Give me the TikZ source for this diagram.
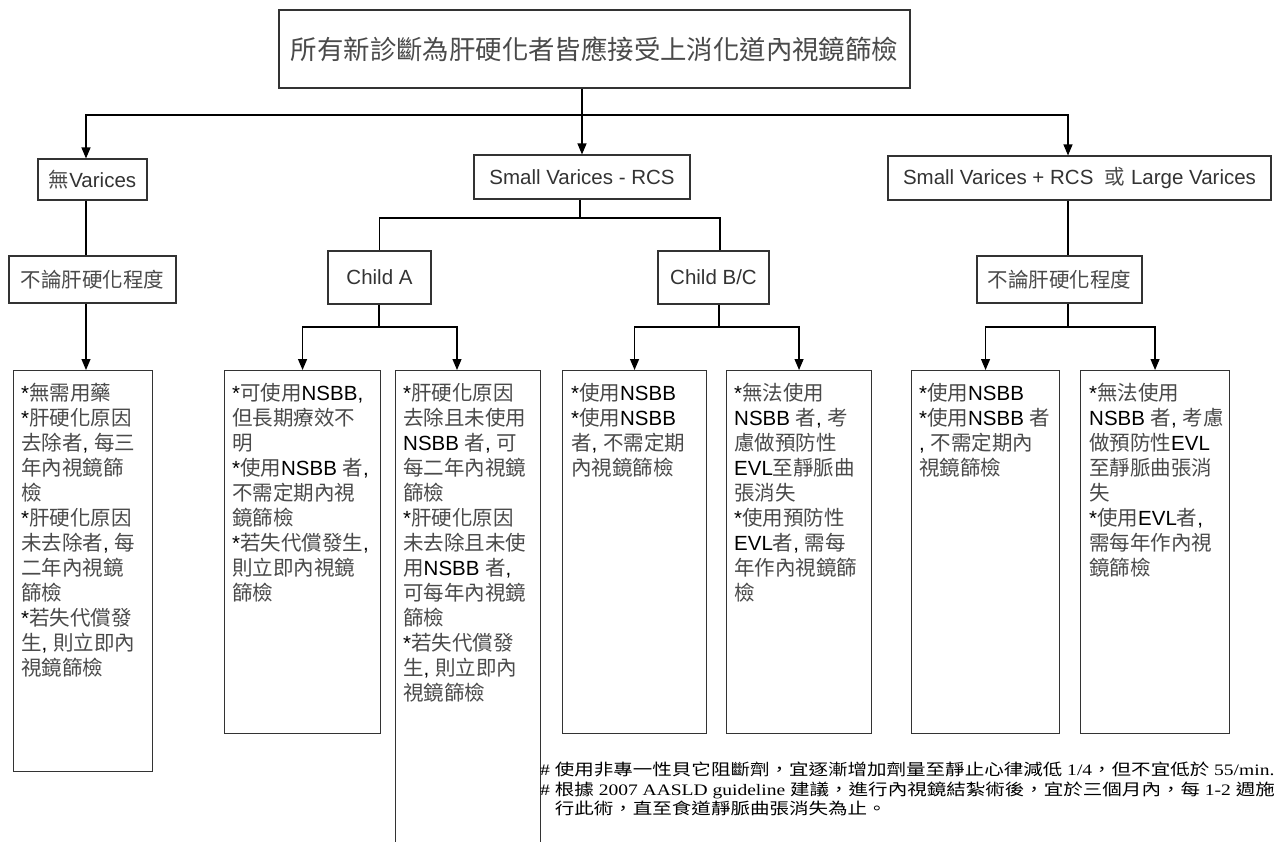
\documentclass[tikz,border=0pt]{standalone}
\usepackage{fontspec}
\setmainfont{Liberation Sans}
\newfontfamily\cjk{Noto Sans CJK TC}
\newfontfamily\fnlat[FakeStretch=1.22]{Liberation Serif}
\newfontfamily\fncjk[FakeStretch=1.22]{Noto Sans CJK TC}
\usetikzlibrary{arrows.meta,calc}
\definecolor{zhgray}{HTML}{4A4A4A}
\definecolor{boxline}{HTML}{333333}
\definecolor{labtext}{HTML}{333333}
\newcommand\zh[1]{{\cjk\color{zhgray}#1}}
\newcommand\fz[1]{{\fncjk #1}}
\newcommand\topfont{\fontsize{26.4pt}{30pt}\selectfont}
\newcommand\labfont{\fontsize{20.5pt}{24pt}\selectfont}
\newcommand\leaffont{\fontsize{20.5pt}{25pt}\selectfont}
\newcommand\notefont{\fontsize{16pt}{19.5pt}\selectfont}
\begin{document}
\begin{tikzpicture}[x=1pt,y=-1pt,
  mybox/.style={draw=boxline, line width=1.1pt, inner sep=0pt},
  lab/.style={mybox, font=\labfont, text=labtext},
  leafbox/.style={mybox, anchor=north west},
  leaf/.style={anchor=north west, inner sep=0pt, align=left, font=\leaffont, text=black},
  conn/.style={draw=black, line width=1.2pt},
  arr/.style={conn, -{Triangle[width=9pt,length=11pt]}}]
\useasboundingbox (0,0) rectangle (1276,842);
\clip (0,0) rectangle (1276,842);
\fill[white] (0,0) rectangle (1276,842);

% top
\node[mybox, minimum width=631pt, minimum height=78pt, font=\topfont] (top) at (594.5,49) {\zh{所有新診斷為肝硬化者皆應接受上消化道內視鏡篩檢}};

% level 2
\node[lab, minimum width=109pt, minimum height=41pt] (nov) at (92.5,179.5) {\zh{無}Varices};
\node[lab, minimum width=216pt, minimum height=44pt] (mid) at (582,177) {Small Varices - RCS};
\node[lab, minimum width=383pt, minimum height=44pt] (rgt) at (1079.5,178) {Small Varices + RCS \ \zh{或} Large Varices};

% level 3
\node[lab, minimum width=167pt, minimum height=47pt] (nl) at (92.5,279.5) {\zh{不論肝硬化程度}};
\node[lab, minimum width=103pt, minimum height=53pt] (ca) at (379.5,277.5) {Child A};
\node[lab, minimum width=111pt, minimum height=53pt] (cbc) at (713.5,277.5) {Child B/C};
\node[lab, minimum width=165pt, minimum height=47pt] (nr) at (1059.5,279.5) {\zh{不論肝硬化程度}};

% leaf boxes
\node[leafbox, minimum width=139pt, minimum height=401pt] (ln) at (13,370) {};
\node[leafbox, minimum width=156pt, minimum height=363pt] (la1) at (224,370) {};
\node[leafbox, minimum width=145pt, minimum height=520pt] (la2) at (395,370) {};
\node[leafbox, minimum width=144pt, minimum height=363pt] (lb1) at (562,370) {};
\node[leafbox, minimum width=145pt, minimum height=363pt] (lb2) at (726,370) {};
\node[leafbox, minimum width=148pt, minimum height=363pt] (lr1) at (911,370) {};
\node[leafbox, minimum width=149pt, minimum height=363pt] (lr2) at (1080,370) {};

% leaf texts
\node[leaf] (tn) at ([shift={(8,13)}]ln.north west) {*\zh{無需用藥}\\*\zh{肝硬化原因}\\\zh{去除者}, \zh{每三}\\\zh{年內視鏡篩}\\\zh{檢}\\*\zh{肝硬化原因}\\\zh{未去除者}, \zh{每}\\\zh{二年內視鏡}\\\zh{篩檢}\\*\zh{若失代償發}\\\zh{生}, \zh{則立即內}\\\zh{視鏡篩檢}};
\node[leaf] (ta1) at ([shift={(8,13)}]la1.north west) {*\zh{可使用}NSBB,\\\zh{但長期療效不}\\\zh{明}\\*\zh{使用}NSBB \zh{者},\\\zh{不需定期內視}\\\zh{鏡篩檢}\\*\zh{若失代償發生},\\\zh{則立即內視鏡}\\\zh{篩檢}};
\node[leaf] (ta2) at ([shift={(8,13)}]la2.north west) {*\zh{肝硬化原因}\\\zh{去除且未使用}\\NSBB \zh{者}, \zh{可}\\\zh{每二年內視鏡}\\\zh{篩檢}\\*\zh{肝硬化原因}\\\zh{未去除且未使}\\\zh{用}NSBB \zh{者},\\\zh{可每年內視鏡}\\\zh{篩檢}\\*\zh{若失代償發}\\\zh{生}, \zh{則立即內}\\\zh{視鏡篩檢}};
\node[leaf] (tb1) at ([shift={(9,13)}]lb1.north west) {*\zh{使用}NSBB\\*\zh{使用}NSBB\\\zh{者}, \zh{不需定期}\\\zh{內視鏡篩檢}};
\node[leaf] (tb2) at ([shift={(8,13)}]lb2.north west) {*\zh{無法使用}\\NSBB \zh{者}, \zh{考}\\\zh{慮做預防性}\\EVL\zh{至靜脈曲}\\\zh{張消失}\\*\zh{使用預防性}\\EVL\zh{者}, \zh{需每}\\\zh{年作內視鏡篩}\\\zh{檢}};
\node[leaf] (tr1) at ([shift={(8,13)}]lr1.north west) {*\zh{使用}NSBB\\*\zh{使用}NSBB \zh{者}\\, \zh{不需定期內}\\\zh{視鏡篩檢}};
\node[leaf] (tr2) at ([shift={(9,13)}]lr2.north west) {*\zh{無法使用}\\NSBB \zh{者}, \zh{考慮}\\\zh{做預防性}EVL\\\zh{至靜脈曲張消}\\\zh{失}\\*\zh{使用}EVL\zh{者},\\\zh{需每年作內視}\\\zh{鏡篩檢}};

% footnotes
\node[anchor=north west, inner sep=0pt, align=left, font=\notefont\fnlat, text=black] (note) at (540,762)
 {\# \fz{使用非專一性貝它阻斷劑，宜逐漸增加劑量至靜止心律減低} 1/4\fz{，但不宜低於} 55/min.\\
  \# \fz{根據} 2007 AASLD guideline \fz{建議，進行內視鏡結紮術後，宜於三個月內，每} 1-2 \fz{週施}\\
  \phantom{\# }\fz{行此術，直至食道靜脈曲張消失為止。}};

% connector helper coordinates
\coordinate (j0) at (582,115);
\coordinate (xl) at (86,0);
\coordinate (xr) at (1068,0);
\coordinate (jm) at (580,218);
\coordinate (xbc) at (720,0);
\coordinate (ja) at (379,327);
\coordinate (xa2) at (457,0);
\coordinate (jb) at (719,327);
\coordinate (jr) at (1068,327);

% top level connectors
\draw[conn] (top.south -| j0) -- (j0);
\draw[arr] (j0) -| (nov.north -| xl);
\draw[arr] (j0) -- (mid.north -| j0);
\draw[arr] (j0) -| (rgt.north -| xr);

% left branch
\draw[conn] (nov.south -| xl) -- (nl.north -| xl);
\draw[arr] (nl.south -| xl) -- (ln.north -| xl);

% middle branch
\draw[conn] (mid.south -| jm) -- (jm);
\draw[conn] (jm) -| (ca.north);
\draw[conn] (jm) -| (cbc.north -| xbc);
\draw[conn] (ca.south -| ja) -- (ja);
\draw[arr] (ja) -| (la1.north);
\draw[arr] (ja) -| (la2.north -| xa2);
\draw[conn] (cbc.south -| jb) -- (jb);
\draw[arr] (jb) -| (lb1.north);
\draw[arr] (jb) -| (lb2.north);

% right branch
\draw[conn] (rgt.south -| xr) -- (nr.north -| xr);
\draw[conn] (nr.south -| jr) -- (jr);
\draw[arr] (jr) -| (lr1.north);
\draw[arr] (jr) -| (lr2.north);
\end{tikzpicture}
\end{document}
